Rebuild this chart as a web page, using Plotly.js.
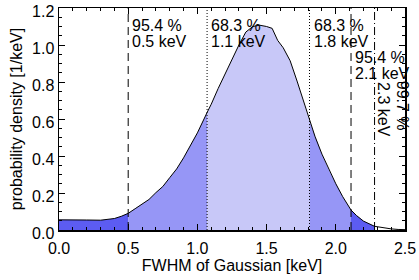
<!DOCTYPE html>
<html>
<head>
<meta charset="utf-8">
<script src="https://cdn.plot.ly/plotly-3.0.1.min.js"></script>
<style>html,body{margin:0;padding:0;background:#fff;}#chart{width:419px;height:280px;}</style>
</head>
<body>
<div id="chart"></div>
<script>
// FWHM values [keV] and probability density [1/keV]
const fwhm = [0, 0.1, 0.2, 0.3, 0.35, 0.4, 0.45, 0.5, 0.55, 0.6, 0.65, 0.7, 0.75, 0.8, 0.85, 0.9, 0.95, 1.0, 1.07, 1.1, 1.15, 1.2, 1.25, 1.3, 1.35, 1.4, 1.45, 1.5, 1.54, 1.58, 1.62, 1.67, 1.72, 1.76, 1.81, 1.85, 1.9, 1.95, 2.0, 2.05, 2.11, 2.15, 2.2, 2.28, 2.35, 2.4, 2.45, 2.5];
const density = [0.055, 0.056, 0.054, 0.053, 0.056, 0.062, 0.074, 0.09, 0.115, 0.138, 0.165, 0.202, 0.235, 0.283, 0.33, 0.39, 0.455, 0.525, 0.635, 0.68, 0.765, 0.845, 0.925, 1.0, 1.07, 1.1, 1.107, 1.1, 1.09, 1.025, 0.985, 0.915, 0.805, 0.71, 0.59, 0.505, 0.41, 0.325, 0.25, 0.18, 0.108, 0.078, 0.048, 0.02, 0.01, 0.006, 0.003, 0.002];

// interval boundaries [keV]
const bounds = [0.5, 1.07, 1.81, 2.11, 2.28];
const boundPct = ["95.4 %", "68.3 %", "68.3 %", "95.4 %", "99.7 %"];
const boundLabel = ["0.5 keV", "1.1 keV", "1.8 keV", "2.1 keV", "2.3 keV"];

// tick values
const xTicks = [0, 0.5, 1.0, 1.5, 2.0, 2.5];
const xTickText = ["0.0", "0.5", "1.0", "1.5", "2.0", "2.5"];
const yTicks = [0, 0.2, 0.4, 0.6, 0.8, 1.0, 1.2];
const yTickText = ["0.0", "0.2", "0.4", "0.6", "0.8", "1.0", "1.2"];

const dark = "rgb(92,92,242)", mid = "rgb(150,150,246)", light = "rgb(200,200,248)";
const segEdges = [0, 0.5, 1.07, 1.81, 2.11, 2.28];
const segColors = [dark, mid, light, mid, dark];

const traces = [];
for (let i = 0; i < segColors.length; i++) {
  const lo = segEdges[i], hi = segEdges[i+1];
  const xs = [], ys = [];
  fwhm.forEach((v, k) => { if (v >= lo - 1e-9 && v <= hi + 1e-9) { xs.push(v); ys.push(density[k]); } });
  traces.push({x: xs, y: ys, type: "scatter", mode: "lines", fill: "tozeroy",
    fillcolor: segColors[i], line: {width: 0}, hoverinfo: "skip", showlegend: false});
}
traces.push({x: fwhm, y: density, type: "scatter", mode: "lines",
  line: {color: "black", width: 1}, showlegend: false});

const dashes = ["8px,5px", "1px,2px", "1px,2px", "8px,5px", "8px,3px,1px,3px"];
const shapes = bounds.map((b, i) => ({type: "line", xref: "x", yref: "paper", x0: b, x1: b, y0: 0, y1: 1,
  line: {color: "black", width: 1, dash: dashes[i]}}));

const FAM = "Liberation Sans, Arial, sans-serif";
const fontA = {family: FAM, size: 16, color: "black"};
const annotations = [];
const rowsY = [[1.105, 1.02], [1.105, 1.02], [1.105, 1.02], [0.93, 0.845]];
for (let i = 0; i < 4; i++) {
  annotations.push({xref: "x", yref: "y", x: bounds[i], y: rowsY[i][0], text: boundPct[i], showarrow: false,
    xanchor: "left", yanchor: "middle", xshift: 2, font: fontA});
  annotations.push({xref: "x", yref: "y", x: bounds[i], y: rowsY[i][1], text: boundLabel[i], showarrow: false,
    xanchor: "left", yanchor: "middle", xshift: 2, font: fontA});
}
annotations.push({xref: "x", yref: "y", x: bounds[4], y: 0.82, text: boundPct[4],
  showarrow: false, textangle: 90, xanchor: "center", yanchor: "top", xshift: 28, font: fontA});
annotations.push({xref: "x", yref: "y", x: bounds[4], y: 0.81, text: boundLabel[4],
  showarrow: false, textangle: 90, xanchor: "center", yanchor: "top", xshift: 9, font: fontA});

const axisCommon = {showgrid: false, zeroline: false, showline: true, linecolor: "black", linewidth: 1.5,
  mirror: "ticks", ticks: "inside", ticklen: 6, tickwidth: 1, tickcolor: "black",
  ticklabeloverflow: "allow",
  tickfont: {family: FAM, size: 16, color: "black"}};

const layout = {
  width: 419, height: 280,
  margin: {l: 59, r: 14, t: 8, b: 50},
  paper_bgcolor: "white", plot_bgcolor: "white",
  xaxis: Object.assign({}, axisCommon, {range: [0, 2.5], tickmode: "array", tickvals: xTicks, ticktext: xTickText,
    ticklabelstandoff: 3,
    minor: {dtick: 0.1, tick0: 0, ticklen: 3, ticks: "inside", tickcolor: "black"},
    title: {text: "FWHM of Gaussian [keV]", font: {family: FAM, size: 16, color: "black"}, standoff: 0}}),
  yaxis: Object.assign({}, axisCommon, {range: [0, 1.2], tickmode: "array", tickvals: yTicks, ticktext: yTickText,
    ticklabelshift: 3,
    minor: {dtick: 0.05, tick0: 0, ticklen: 3, ticks: "inside", tickcolor: "black"},
    title: {text: "probability density [1/keV]", font: {family: FAM, size: 16, color: "black"}, standoff: 5}}),
  shapes: shapes,
  annotations: annotations,
  showlegend: false
};

Plotly.newPlot("chart", traces, layout, {staticPlot: true, displayModeBar: false});
</script>
</body>
</html>
